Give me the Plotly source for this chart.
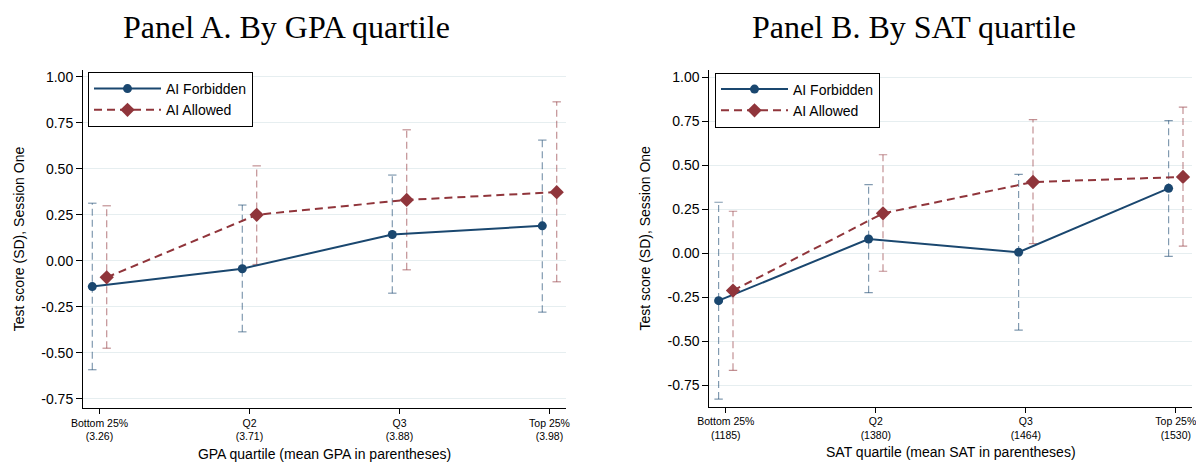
import plotly.graph_objects as go

# ---------------- data ----------------
quartile_pos = [1, 2, 3, 4]
gpa_ticklabels = ["Bottom 25%<br>(3.26)", "Q2<br>(3.71)", "Q3<br>(3.88)", "Top 25%<br>(3.98)"]
sat_ticklabels = ["Bottom 25%<br>(1185)", "Q2<br>(1380)", "Q3<br>(1464)", "Top 25%<br>(1530)"]

gpa_forbidden = [-0.14, -0.043, 0.143, 0.19]
gpa_forbidden_lo = [-0.592, -0.386, -0.176, -0.279]
gpa_forbidden_hi = [0.313, 0.303, 0.466, 0.656]
gpa_allowed = [-0.09, 0.25, 0.331, 0.373]
gpa_allowed_lo = [-0.475, -0.02, -0.049, -0.114]
gpa_allowed_hi = [0.299, 0.516, 0.712, 0.864]

sat_forbidden = [-0.269, 0.081, 0.006, 0.369]
sat_forbidden_lo = [-0.828, -0.224, -0.436, -0.017]
sat_forbidden_hi = [0.29, 0.39, 0.449, 0.754]
sat_allowed = [-0.212, 0.227, 0.405, 0.434]
sat_allowed_lo = [-0.665, -0.102, 0.055, 0.041]
sat_allowed_hi = [0.239, 0.56, 0.759, 0.83]

ytick_vals = [-0.75, -0.5, -0.25, 0, 0.25, 0.5, 0.75, 1.0]
ytick_text = ["-0.75", "-0.50", "-0.25", "0.00", "0.25", "0.50", "0.75", "1.00"]

# ---------------- style ----------------
NAVY = "#1a476f"
MAROON = "#90353b"
NAVY_CI = "rgba(26,71,111,0.55)"
MAROON_CI = "rgba(144,53,59,0.55)"
OFFSET = 0.048
W, H = 1204, 468
PAGE_OFF = 8  # default page body margin
SANS = "Liberation Sans, Arial, sans-serif"
SERIF = "Liberation Serif, Times New Roman, serif"


def px(sx):
    return (sx - PAGE_OFF) / W


def py(sy):
    return (H - (sy - PAGE_OFF)) / H


def ci_segments(xs, lo, hi):
    X, Y = [], []
    for x, a, b in zip(xs, lo, hi):
        X += [x, x, None]
        Y += [a, b, None]
    return X, Y


fig = go.Figure()

panels = [
    dict(xa="x", ya="y", leg="legend",
         f=gpa_forbidden, flo=gpa_forbidden_lo, fhi=gpa_forbidden_hi,
         a=gpa_allowed, alo=gpa_allowed_lo, ahi=gpa_allowed_hi),
    dict(xa="x2", ya="y2", leg="legend2",
         f=sat_forbidden, flo=sat_forbidden_lo, fhi=sat_forbidden_hi,
         a=sat_allowed, alo=sat_allowed_lo, ahi=sat_allowed_hi),
]

for p in panels:
    xf = [q - OFFSET for q in quartile_pos]
    xa_ = [q + OFFSET for q in quartile_pos]
    for xs, lo, hi, col in [(xf, p["flo"], p["fhi"], NAVY_CI), (xa_, p["alo"], p["ahi"], MAROON_CI)]:
        X, Y = ci_segments(xs, lo, hi)
        fig.add_trace(go.Scatter(x=X, y=Y, mode="lines", xaxis=p["xa"], yaxis=p["ya"],
                                 line=dict(color=col, width=1.2, dash="7px,4px"),
                                 showlegend=False, hoverinfo="skip"))
        fig.add_trace(go.Scatter(x=xs + xs, y=lo + hi, mode="markers", xaxis=p["xa"], yaxis=p["ya"],
                                 marker=dict(symbol="line-ew", size=6, color=col,
                                             line=dict(color=col, width=1.2)),
                                 showlegend=False, hoverinfo="skip"))
    fig.add_trace(go.Scatter(x=xf, y=p["f"], mode="lines+markers", name="AI Forbidden",
                             xaxis=p["xa"], yaxis=p["ya"], legend=p["leg"],
                             line=dict(color=NAVY, width=2),
                             marker=dict(symbol="circle", size=9, color=NAVY)))
    fig.add_trace(go.Scatter(x=xa_, y=p["a"], mode="lines+markers", name="AI Allowed",
                             xaxis=p["xa"], yaxis=p["ya"], legend=p["leg"],
                             line=dict(color=MAROON, width=2, dash="8px,5px"),
                             marker=dict(symbol="diamond", size=11, color=MAROON)))

axis_font = dict(family=SANS, size=14, color="black")
xcommon = dict(range=[0.89, 4.11], tickvals=quartile_pos, showgrid=False, zeroline=False,
               showline=True, linecolor="black", linewidth=1, ticks="outside", ticklen=5,
               tickcolor="black", tickfont=dict(family=SANS, size=10.5, color="black"),
               automargin=False)
ycommon = dict(tickvals=ytick_vals, ticktext=ytick_text, showgrid=True, gridcolor="#e6eef0", gridwidth=1,
               zeroline=False, showline=True, linecolor="black", linewidth=1, ticks="outside", ticklen=6,
               tickcolor="black", tickfont=dict(family=SANS, size=14, color="black"),
               title=dict(text="Test score (SD), Session One", font=axis_font, standoff=13),
               automargin=False)

legend_common = dict(xanchor="left", yanchor="top", bgcolor="white",
                     bordercolor="black", borderwidth=1, itemwidth=67,
                     font=dict(family=SANS, size=14, color="black"))

fig.update_layout(
    width=W, height=H, margin=dict(l=0, r=0, t=0, b=0, autoexpand=False),
    paper_bgcolor="white", plot_bgcolor="white",
    xaxis=dict(xcommon, domain=[px(83), px(566)], ticktext=gpa_ticklabels,
               title=dict(text="GPA quartile (mean GPA in parentheses)", font=axis_font, standoff=7),
               anchor="y"),
    yaxis=dict(ycommon, domain=[py(408), py(70)], range=[-0.80, 1.037], anchor="x"),
    xaxis2=dict(xcommon, domain=[px(709.3), px(1192.3)], ticktext=sat_ticklabels,
                title=dict(text="SAT quartile (mean SAT in parentheses)", font=axis_font, standoff=7),
                anchor="y2"),
    yaxis2=dict(ycommon, domain=[py(406.7), py(70)], range=[-0.8716, 1.0415], anchor="x2"),
    legend=dict(legend_common, x=px(88), y=py(72)),
    legend2=dict(legend_common, x=px(715), y=py(72.5)),
    annotations=[
        dict(text="Panel A. By GPA quartile", x=px(286), y=1.0, xref="paper", yref="paper",
             xanchor="center", yanchor="top", showarrow=False, borderpad=0,
             font=dict(family=SERIF, size=32, color="black")),
        dict(text="Panel B. By SAT quartile", x=px(913.5), y=1.0, xref="paper", yref="paper",
             xanchor="center", yanchor="top", showarrow=False, borderpad=0,
             font=dict(family=SERIF, size=32, color="black")),
    ],
)

fig.write_html("out.html")
